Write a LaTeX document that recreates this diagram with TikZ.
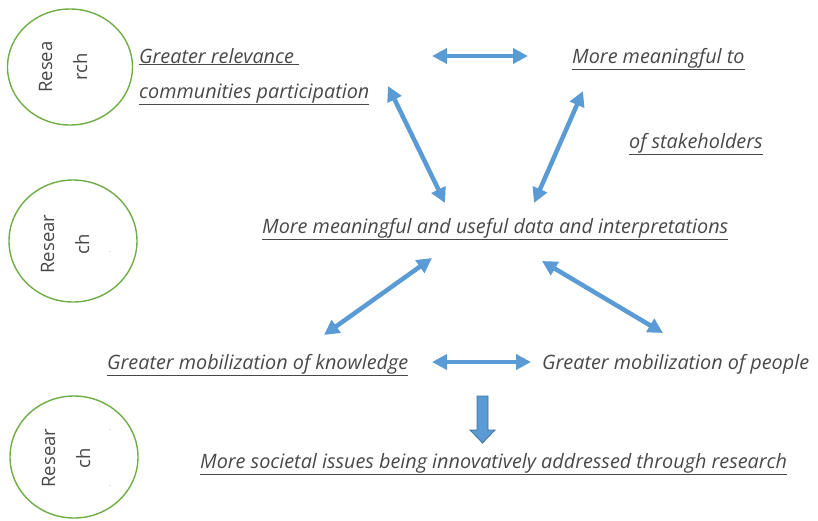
\documentclass[tikz,border=0pt]{standalone}
\usepackage{fontspec}
\setmainfont{Open Sans}
\usepackage{tikz}
\usetikzlibrary{arrows,arrows.meta,shapes,positioning}

\definecolor{linkblue}{HTML}{5B9BD5}
\definecolor{edgeblue}{HTML}{41719C}
\definecolor{ringgreen}{HTML}{70AD47}
\definecolor{textgray}{HTML}{484848}

\begin{document}
\begin{tikzpicture}
        [
            x=1pt, y=-1pt,
            idea/.style={font=\fontsize{19.8}{23}\selectfont\itshape, text=textgray, inner sep=0pt, anchor=base west},
            ring/.style={ellipse, draw=ringgreen, line width=1.4pt, minimum width=#1},
            ringtext/.style={font=\fontsize{18.5}{35}\selectfont, text=textgray, rotate=90, align=center},
            link/.style={{Triangle[length=15pt,width=15pt]}-{Triangle[length=15pt,width=15pt]}, line width=4.5pt, draw=linkblue},
        ]
            \useasboundingbox (0,0) rectangle (818,520);

            \node[ring=125pt, minimum height=116pt] (R1) at (70, 67) {};
            \node[ring=128pt, minimum height=122pt] (R2) at (73, 241) {};
            \node[ring=128pt, minimum height=122pt] (R3) at (74, 457) {};
            \node[ringtext] (R1t) at (63, 67) {Resea\\rch};
            \node[ringtext] (R2t) at (65, 244) {Resear\\ch};
            \node[ringtext] (R3t) at (66, 458) {Resear\\ch};
            \node[font=\tiny, text=textgray, rotate=90] (R2d) at (110, 252) {.};
            \node[font=\tiny, text=textgray, rotate=90] (R3d1) at (110, 430) {.};
            \node[font=\tiny, text=textgray, rotate=90] (R3d2) at (110, 486) {.};

            \node[idea] (relev) at (139, 63) {\underline{Greater relevance\ }};
            \node[idea] (commu) at (139, 98) {\underline{communities participation}};
            \node[idea] (meant) at (572, 63) {\underline{More meaningful to}};
            \node[idea] (stake) at (629, 148) {\underline{of stakeholders}};
            \node[idea] (data) at (262, 233) {\underline{More meaningful and useful data and interpretations}};
            \node[idea] (know) at (107, 369) {\underline{Greater mobilization of knowledge}};
            \node[idea] (peop) at (542, 369) {Greater mobilization of people};
            \node[idea] (soci) at (200, 468) {\underline{More societal issues being innovatively addressed through research}};

            \coordinate (relevE) at (432, 56);
            \coordinate (meantW) at (528, 56);
            \coordinate (commuE) at (388, 86);
            \coordinate (dataNW) at (445, 203);
            \coordinate (meantS) at (583, 91);
            \coordinate (dataNE) at (534, 203);
            \coordinate (dataSW) at (432, 258);
            \coordinate (knowNE) at (324, 335);
            \coordinate (dataSE) at (542, 261);
            \coordinate (peopNW) at (663, 333);
            \coordinate (knowE) at (432, 362);
            \coordinate (peopW) at (531, 362);
            \coordinate (down) at (482.5, 396);

            \draw[link] (relevE) -- (meantW);
            \draw[link] (commuE) -- (dataNW);
            \draw[link] (meantS) -- (dataNE);
            \draw[link] (dataSW) -- (knowNE);
            \draw[link] (dataSE) -- (peopNW);
            \draw[link] (knowE) -- (peopW);

            \draw[fill=linkblue, draw=edgeblue, line width=0.8pt, shift={(down)}]
                (-5.5,0) -- (5.5,0) -- (5.5,34) -- (12.5,34) -- (0,47) -- (-12.5,34) -- (-5.5,34) -- cycle;
        \end{tikzpicture}
\end{document}
